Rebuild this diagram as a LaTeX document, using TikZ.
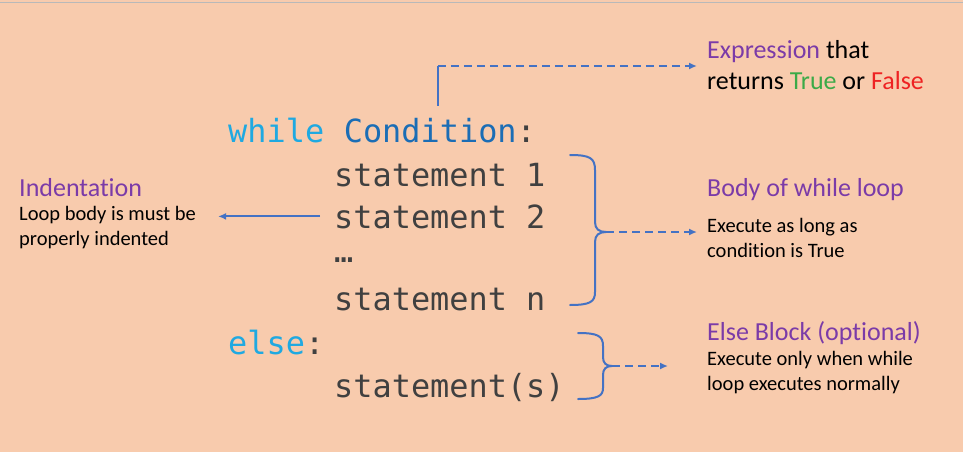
\documentclass[tikz,border=0pt]{standalone}
\usepackage{fontspec}
\setmainfont[Ligatures=NoCommon]{Carlito}
\setmonofont{DejaVu Sans Mono}
\usetikzlibrary{positioning}
\usetikzlibrary{arrows.meta}
\definecolor{peach}{HTML}{F8CBAD}
\definecolor{kwblue}{HTML}{1FA9E1}
\definecolor{condblue}{HTML}{1B6DB5}
\definecolor{stmtgray}{HTML}{404040}
\definecolor{linkblue}{HTML}{4472C4}
\definecolor{headpurple}{HTML}{7B3BA8}
\definecolor{truegreen}{HTML}{3BAA48}
\definecolor{falsered}{HTML}{EE2222}
\tikzset{
    code/.style = {anchor=base west, inner sep=0pt, text=stmtgray, font=\ttfamily\fontsize{31.9}{38}\selectfont},
    heading/.style = {anchor=base west, inner sep=0pt, text=headpurple, font=\fontsize{26}{30}\selectfont},
    note/.style = {anchor=base west, inner sep=0pt, align=left, font=\fontsize{20.5}{24.5}\selectfont},
    link/.style = {line width=1.8pt, draw=linkblue},
    linkn/.style = {link, -{Latex[length=8pt,width=7pt]}},
    linkd/.style = {link, dash pattern=on 8pt off 5pt, -{Latex[length=8pt,width=7pt]}},
    bracket/.style = {line width=2pt, draw=linkblue, line join=round, line cap=round}
}

\begin{document}
\begin{tikzpicture}[x=1pt,y=-1pt]
  \fill[peach] (0,0) rectangle (963,452);
  \useasboundingbox (0,0) rectangle (963,452);
  \draw[gray!55, line width=1.5pt] (0,2.5) -- (963,2.5);

  % code
  \node[code, text=kwblue] (kwwhile) at (228,142) {while};
  \node[code, base right=19.2pt of kwwhile, anchor=base west] (cond) {\textcolor{condblue}{Condition}:};
  \node[code] (stmt1) at (334,186) {statement 1};
  \node[code] (stmt2) at (334,228) {statement 2};
  \node[code] (dots) at (334,262) {…};
  \node[code] (stmtn) at (334,310) {statement n};
  \node[code] (kwelse) at (228,354) {\textcolor{kwblue}{else}:};
  \node[code] (stmts) at (334,397) {statement(s)};

  % labels (two-line notes sit on their last line)
  \node[heading, text=black] (expr) at (707,59)
    {\textcolor{headpurple}{Expression} that};
  \node[heading, text=black] (exprb) at (707,89)
    {returns \textcolor{truegreen}{True} or \textcolor{falsered}{False}};
  \node[heading] (indhead) at (19,196) {Indentation};
  \node[note] (indnote) at (19,245) {Loop body is must be\\properly indented};
  \node[heading] (bodyhead) at (707,196) {Body of while loop};
  \node[note] (bodynote) at (707,257) {Execute as long as\\condition is True};
  \node[heading] (elsehead) at (707,340) {Else Block (optional)};
  \node[note] (elsenote) at (707,390) {Execute only when while\\loop executes normally};

  % braces
  \draw[bracket] (570,155) .. controls (590,155) and (595,158) .. (595,170)
    -- (595,222) .. controls (595,229) and (599,232) .. (606,232)
    .. controls (599,232) and (595,235) .. (595,242)
    -- (595,292) .. controls (595,302) and (590,305) .. (570,305);
  \coordinate (bodytip) at (606,232);
  \draw[bracket] (578,333) .. controls (598,333) and (603,336) .. (603,346)
    -- (603,357) .. controls (603,363) and (606,366) .. (612,366)
    .. controls (606,366) and (603,369) .. (603,375)
    -- (603,388) .. controls (603,396) and (598,399) .. (578,399);
  \coordinate (elsetip) at (612,366);

  % connectors
  \coordinate (condtop) at ([xshift=-2pt,yshift=12pt]cond.north);
  \coordinate (condbend) at (condtop |- 0,66);
  \draw[link] (condtop) -- (condbend);
  \draw[linkd] (condbend) -- ([xshift=-10pt]expr.west |- condbend);
  \draw[linkn] ([xshift=-14pt]stmt2.west) -- ([xshift=22pt]indnote.east |- stmt2.west);
  \draw[linkd] (bodytip) -- ([xshift=-10pt]bodynote.west |- bodytip);
  \draw[linkd] (elsetip) -- ([xshift=-39pt]elsenote.west |- elsetip);
\end{tikzpicture}
\end{document}
